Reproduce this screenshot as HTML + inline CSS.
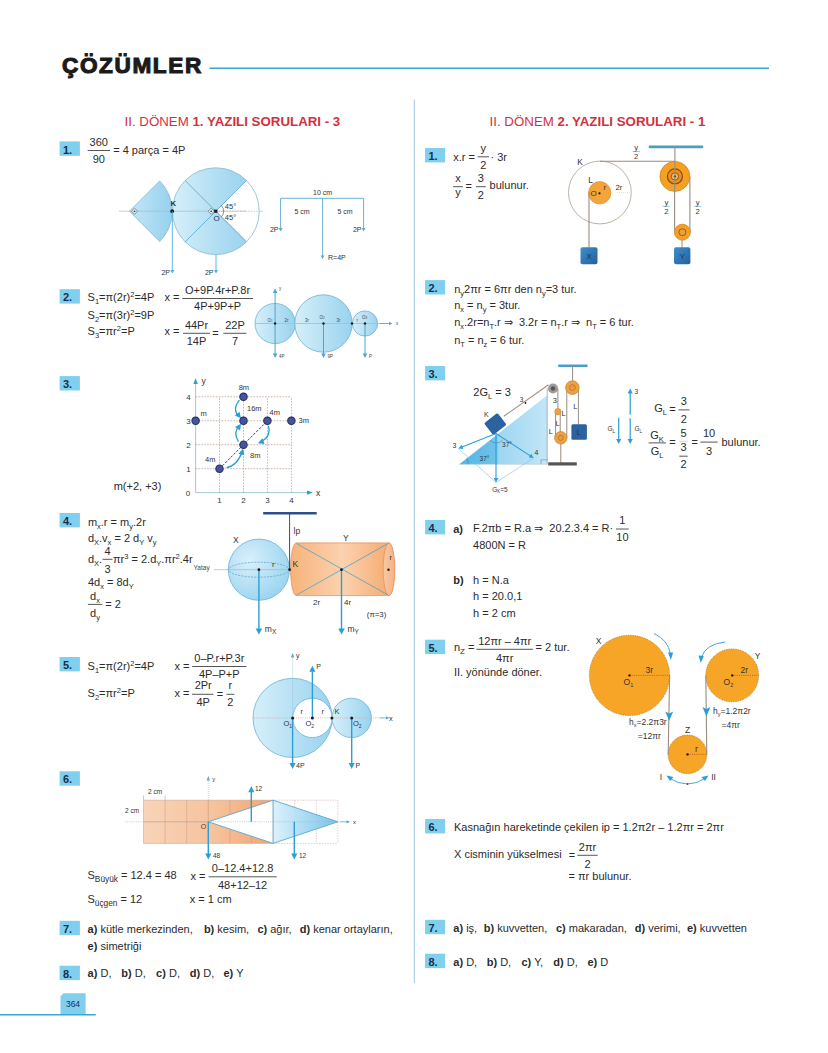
<!DOCTYPE html><html><head><meta charset="utf-8"><style>html,body{margin:0;padding:0;background:#fff;overflow:hidden;}svg{display:block;font-family:"Liberation Sans",sans-serif;}text{white-space:pre;}</style></head><body>
<svg width="828" height="1053" viewBox="0 0 828 1053">
<defs><linearGradient id="gb" x1="0" y1="0" x2="1" y2="0"><stop offset="0" stop-color="#d6eff9"/><stop offset="1" stop-color="#99d3ef"/></linearGradient><linearGradient id="gbr" x1="0" y1="0" x2="1" y2="0"><stop offset="0" stop-color="#c4e6f6"/><stop offset="1" stop-color="#95d1ee"/></linearGradient><radialGradient id="gs" cx="0.35" cy="0.35" r="0.75"><stop offset="0" stop-color="#d8f0fb"/><stop offset="1" stop-color="#98d2ef"/></radialGradient><linearGradient id="go" x1="0" y1="0" x2="1" y2="0"><stop offset="0" stop-color="#f7b27a"/><stop offset="0.5" stop-color="#fbd2b0"/><stop offset="1" stop-color="#f5a76a"/></linearGradient><linearGradient id="gor" x1="0" y1="0" x2="1" y2="0"><stop offset="0" stop-color="#f8c9a4"/><stop offset="1" stop-color="#f5b184"/></linearGradient><linearGradient id="ginc" x1="0" y1="0" x2="1" y2="0"><stop offset="0" stop-color="#4fb5e4"/><stop offset="0.42" stop-color="#6fc3ea"/><stop offset="0.45" stop-color="#9dd6f1"/><stop offset="1" stop-color="#c3e6f7"/></linearGradient></defs>
<text x="62.0" y="73.2" font-size="22.6" font-weight="bold" fill="#1b1b1b" letter-spacing="1.6" stroke="#1b1b1b" stroke-width="1.1">ÇÖZÜMLER</text>
<line x1="209.5" y1="68.2" x2="769.0" y2="68.2" stroke="#3ba6cf" stroke-width="1.6"/>
<line x1="414.3" y1="99.5" x2="414.3" y2="983.0" stroke="#9cc8dc" stroke-width="1"/>
<path d="M60.5,996.5 L63.5,993.3 L85.6,993.3 L85.6,1014.5 L60.5,1014.5 Z" fill="#80cfee"/>
<text x="73.0" y="1007.3" font-size="8.5" text-anchor="middle" fill="#14304a">364</text>
<line x1="0.0" y1="1014.8" x2="95.8" y2="1014.8" stroke="#3ba6cf" stroke-width="1.5"/>
<text x="124.5" y="126.2" font-size="13.3" fill="#d1323f">II. DÖNEM <tspan font-weight="bold">1. YAZILI SORULARI - 3</tspan></text>
<text x="489.6" y="126.1" font-size="13.3" fill="#d1323f">II. DÖNEM <tspan font-weight="bold">2. YAZILI SORULARI - 1</tspan></text>
<rect x="59.6" y="141.4" width="20.3" height="14.4" fill="#80cfee"/>
<text x="62.9" y="153.5" font-size="11" font-weight="bold" fill="#14304a">1.</text>
<line x1="87.7" y1="150.5" x2="110.0" y2="150.5" stroke="#2b2b2b" stroke-width="0.8"/>
<text x="98.8" y="146.1" font-size="11" text-anchor="middle" fill="#2b2b2b">360</text>
<text x="98.8" y="163.2" font-size="11" text-anchor="middle" fill="#2b2b2b">90</text>
<text x="113.2" y="153.9" font-size="11" fill="#2b2b2b">= 4 parça = 4P</text>
<line x1="119.0" y1="211.2" x2="263.0" y2="211.2" stroke="#b9b9b9" stroke-width="0.7"/>
<path d="M129.4,211.2 L159.7,180.9 A42.8,42.8 0 0 1 159.7,241.5 Z" fill="url(#gbr)" stroke="#86b9d2" stroke-width="0.8"/>
<path d="M215.8,211.2 L246.5,180.5 A43.4,43.4 0 1 0 246.5,241.9 Z" fill="url(#gb)" stroke="#86b9d2" stroke-width="0.8"/>
<path d="M246.5,180.5 A43.4,43.4 0 0 1 246.5,241.9" fill="#fff" stroke="#86b9d2" stroke-width="0.8"/>
<line x1="129.4" y1="211.2" x2="215.8" y2="211.2" stroke="#a9b9c2" stroke-width="0.7"/>
<line x1="215.8" y1="211.2" x2="259.0" y2="211.2" stroke="#e3a6a6" stroke-width="0.7" stroke-dasharray="1.5,1.2"/>
<line x1="215.8" y1="211.2" x2="185.1" y2="180.5" stroke="#5eb0d8" stroke-width="0.9"/>
<line x1="215.8" y1="211.2" x2="185.1" y2="241.9" stroke="#5eb0d8" stroke-width="0.9"/>
<line x1="215.8" y1="211.2" x2="246.5" y2="180.5" stroke="#6db1d6" stroke-width="0.9"/>
<line x1="215.8" y1="211.2" x2="246.5" y2="241.9" stroke="#6db1d6" stroke-width="0.9"/>
<path d="M131.4,211.2 l3.1,-3.1 l3.1,3.1 l-3.1,3.1 z" fill="#fff" fill-opacity="0.5" stroke="#555" stroke-width="0.6"/>
<circle cx="134.5" cy="211.2" r="0.8" fill="#223" stroke="none" stroke-width="1"/>
<path d="M214.3,211.2 l-3.1,-3.1 l-3.1,3.1 l3.1,3.1 z" fill="#fff" fill-opacity="0.5" stroke="#555" stroke-width="0.6"/>
<circle cx="211.2" cy="211.2" r="0.8" fill="#223" stroke="none" stroke-width="1"/>
<path d="M221.4,205.6 A8,8 0 0 1 221.4,216.8" fill="none" stroke="#444" stroke-width="0.6"/>
<rect x="214.2" y="209.6" width="3.2" height="3.2" fill="#1a1a2a"/>
<circle cx="172.2" cy="211.2" r="1.9" fill="#1a1a1a" stroke="none" stroke-width="1"/>
<text x="173.3" y="205.6" font-size="7.8" text-anchor="middle" fill="#1f3550" font-weight="bold">K</text>
<text x="216.6" y="220.6" font-size="8" text-anchor="middle" fill="#1f3550">O</text>
<text x="230.5" y="209.0" font-size="7.5" text-anchor="middle" fill="#333">45°</text>
<text x="230.5" y="220.2" font-size="7.5" text-anchor="middle" fill="#333">45°</text>
<line x1="172.3" y1="211.2" x2="172.3" y2="270.5" stroke="#4eb0dc" stroke-width="0.9"/>
<polygon points="172.3,273.5 170.3,270.0 174.3,270.0" fill="#4eb0dc"/>
<line x1="216.0" y1="254.6" x2="216.0" y2="270.5" stroke="#4eb0dc" stroke-width="0.9"/>
<polygon points="216.0,273.5 214.0,270.0 218.0,270.0" fill="#4eb0dc"/>
<text x="170.0" y="274.5" font-size="7" text-anchor="end" fill="#333">2P</text>
<text x="213.5" y="274.5" font-size="7" text-anchor="end" fill="#333">2P</text>
<line x1="280.6" y1="198.3" x2="363.6" y2="198.3" stroke="#58a9cf" stroke-width="0.9"/>
<line x1="280.6" y1="198.3" x2="280.6" y2="228.5" stroke="#58a9cf" stroke-width="0.9"/>
<polygon points="280.6,231.5 278.7,228.0 282.5,228.0" fill="#58a9cf"/>
<line x1="363.6" y1="198.3" x2="363.6" y2="228.5" stroke="#58a9cf" stroke-width="0.9"/>
<polygon points="363.6,231.5 361.7,228.0 365.5,228.0" fill="#58a9cf"/>
<line x1="322.6" y1="198.3" x2="322.6" y2="256.0" stroke="#58a9cf" stroke-width="0.9"/>
<polygon points="322.6,259.0 320.7,255.5 324.5,255.5" fill="#58a9cf"/>
<text x="322.6" y="195.0" font-size="7" text-anchor="middle" fill="#333">10 cm</text>
<text x="302.0" y="214.0" font-size="7" text-anchor="middle" fill="#333">5 cm</text>
<text x="345.0" y="214.0" font-size="7" text-anchor="middle" fill="#333">5 cm</text>
<text x="278.5" y="231.5" font-size="7" text-anchor="end" fill="#333">2P</text>
<text x="361.5" y="231.5" font-size="7" text-anchor="end" fill="#333">2P</text>
<text x="328.0" y="260.0" font-size="7" fill="#333">R=4P</text>
<rect x="59.6" y="289.2" width="20.3" height="14.4" fill="#80cfee"/>
<text x="62.9" y="301.3" font-size="11" font-weight="bold" fill="#14304a">2.</text>
<text x="87.6" y="301.4" font-size="11" fill="#2b2b2b">S<tspan font-size="7.5" baseline-shift="-2.5">1</tspan>=π(2r)<tspan font-size="7.5" baseline-shift="4">2</tspan>=4P</text>
<text x="87.6" y="318.8" font-size="11" fill="#2b2b2b">S<tspan font-size="7.5" baseline-shift="-2.5">2</tspan>=π(3r)<tspan font-size="7.5" baseline-shift="4">2</tspan>=9P</text>
<text x="87.6" y="335.3" font-size="11" fill="#2b2b2b">S<tspan font-size="7.5" baseline-shift="-2.5">3</tspan>=πr<tspan font-size="7.5" baseline-shift="4">2</tspan>=P</text>
<text x="164.5" y="301.3" font-size="11" fill="#2b2b2b">x =</text>
<line x1="182.3" y1="298.5" x2="253.0" y2="298.5" stroke="#2b2b2b" stroke-width="0.8"/>
<text x="217.6" y="294.1" font-size="11" text-anchor="middle" fill="#2b2b2b">O+9P.4r+P.8r</text>
<text x="217.6" y="310.4" font-size="11" text-anchor="middle" fill="#2b2b2b">4P+9P+P</text>
<text x="164.5" y="334.5" font-size="11" fill="#2b2b2b">x =</text>
<line x1="183.0" y1="333.3" x2="210.1" y2="333.3" stroke="#2b2b2b" stroke-width="0.8"/>
<text x="196.5" y="328.5" font-size="11" text-anchor="middle" fill="#2b2b2b">44Pr</text>
<text x="196.5" y="344.8" font-size="11" text-anchor="middle" fill="#2b2b2b">14P</text>
<text x="212.2" y="336.5" font-size="11" fill="#2b2b2b">=</text>
<line x1="223.4" y1="333.3" x2="246.4" y2="333.3" stroke="#2b2b2b" stroke-width="0.8"/>
<text x="235.0" y="328.5" font-size="11" text-anchor="middle" fill="#2b2b2b">22P</text>
<text x="235.0" y="344.8" font-size="11" text-anchor="middle" fill="#2b2b2b">7</text>
<circle cx="275.1" cy="323.5" r="20.1" fill="url(#gb)" stroke="#6db1d6" stroke-width="0.8"/>
<circle cx="323.5" cy="323.5" r="28.7" fill="url(#gb)" stroke="#6db1d6" stroke-width="0.8"/>
<circle cx="365.0" cy="323.5" r="12.6" fill="url(#gb)" stroke="#6db1d6" stroke-width="0.8"/>
<line x1="255.0" y1="323.5" x2="388.0" y2="323.5" stroke="#a9bfca" stroke-width="0.9"/>
<line x1="380.0" y1="323.5" x2="389.5" y2="323.5" stroke="#5aa9cf" stroke-width="0.8"/>
<polygon points="392.5,323.5 389.0,325.2 389.0,321.8" fill="#5aa9cf"/>
<line x1="275.1" y1="323.5" x2="275.1" y2="292.5" stroke="#4aa6d4" stroke-width="1.0"/>
<polygon points="275.1,288.5 277.4,293.0 272.8,293.0" fill="#4aa6d4"/>
<line x1="275.1" y1="323.5" x2="275.1" y2="354.0" stroke="#4aa6d4" stroke-width="1.0"/>
<polygon points="275.1,358.0 272.8,353.5 277.4,353.5" fill="#4aa6d4"/>
<line x1="323.5" y1="323.5" x2="323.5" y2="354.0" stroke="#4aa6d4" stroke-width="1.0"/>
<polygon points="323.5,358.0 321.2,353.5 325.8,353.5" fill="#4aa6d4"/>
<line x1="365.0" y1="323.5" x2="365.0" y2="354.0" stroke="#4aa6d4" stroke-width="1.0"/>
<polygon points="365.0,358.0 362.7,353.5 367.3,353.5" fill="#4aa6d4"/>
<circle cx="275.1" cy="323.5" r="1.2" fill="#1a1a1a" stroke="none" stroke-width="1"/>
<circle cx="323.5" cy="323.5" r="1.2" fill="#1a1a1a" stroke="none" stroke-width="1"/>
<circle cx="352.0" cy="323.5" r="1.2" fill="#1a1a1a" stroke="none" stroke-width="1"/>
<circle cx="365.0" cy="323.5" r="1.2" fill="#1a1a1a" stroke="none" stroke-width="1"/>
<text x="279.0" y="289.5" font-size="4.5" fill="#444">y</text>
<text x="396.0" y="325.0" font-size="4.5" fill="#444">x</text>
<text x="279.0" y="358.0" font-size="4.5" fill="#444">4P</text>
<text x="327.5" y="358.0" font-size="4.5" fill="#444">9P</text>
<text x="369.0" y="358.0" font-size="4.5" fill="#444">P</text>
<text x="267.5" y="322.0" font-size="4.5" fill="#444">O<tspan font-size="3">1</tspan></text>
<text x="284.5" y="322.0" font-size="4.5" fill="#444">2r</text>
<text x="305.0" y="322.0" font-size="4.5" fill="#444">3r</text>
<text x="319.5" y="319.0" font-size="4.5" fill="#444">O<tspan font-size="3">2</tspan></text>
<text x="336.5" y="322.0" font-size="4.5" fill="#444">3r</text>
<text x="356.5" y="322.0" font-size="4.5" fill="#444">r</text>
<text x="362.0" y="319.0" font-size="4.5" fill="#444">O<tspan font-size="3">3</tspan></text>
<rect x="59.6" y="376.1" width="20.3" height="14.4" fill="#80cfee"/>
<text x="62.9" y="388.2" font-size="11" font-weight="bold" fill="#14304a">3.</text>
<text x="113.7" y="490.3" font-size="11" fill="#2b2b2b">m(+2, +3)</text>
<line x1="219.5" y1="492.6" x2="219.5" y2="396.8" stroke="#b39488" stroke-width="0.7" stroke-dasharray="1.6,1.3"/>
<line x1="195.6" y1="468.7" x2="291.4" y2="468.7" stroke="#b39488" stroke-width="0.7" stroke-dasharray="1.6,1.3"/>
<line x1="243.5" y1="492.6" x2="243.5" y2="396.8" stroke="#b39488" stroke-width="0.7" stroke-dasharray="1.6,1.3"/>
<line x1="195.6" y1="444.7" x2="291.4" y2="444.7" stroke="#b39488" stroke-width="0.7" stroke-dasharray="1.6,1.3"/>
<line x1="267.4" y1="492.6" x2="267.4" y2="396.8" stroke="#b39488" stroke-width="0.7" stroke-dasharray="1.6,1.3"/>
<line x1="195.6" y1="420.8" x2="291.4" y2="420.8" stroke="#b39488" stroke-width="0.7" stroke-dasharray="1.6,1.3"/>
<line x1="291.4" y1="492.6" x2="291.4" y2="396.8" stroke="#b39488" stroke-width="0.7" stroke-dasharray="1.6,1.3"/>
<line x1="195.6" y1="396.8" x2="291.4" y2="396.8" stroke="#b39488" stroke-width="0.7" stroke-dasharray="1.6,1.3"/>
<line x1="195.6" y1="492.6" x2="195.6" y2="383.0" stroke="#9cc3d6" stroke-width="0.9"/>
<line x1="195.6" y1="492.6" x2="307.0" y2="492.6" stroke="#9cc3d6" stroke-width="0.9"/>
<polygon points="195.6,378 193.4,384 197.8,384" fill="#2b9fd5"/>
<polygon points="313,492.6 307,490.4 307,494.8" fill="#2b9fd5"/>
<text x="201.6" y="384.0" font-size="8.5" fill="#333">y</text>
<text x="316.0" y="495.5" font-size="8.5" fill="#333">x</text>
<text x="188.0" y="496.0" font-size="8" text-anchor="middle" fill="#333">0</text>
<text x="219.5" y="503.0" font-size="8" text-anchor="middle" fill="#333">1</text>
<text x="188.5" y="471.7" font-size="8" text-anchor="middle" fill="#333">1</text>
<text x="243.5" y="503.0" font-size="8" text-anchor="middle" fill="#333">2</text>
<text x="188.5" y="447.7" font-size="8" text-anchor="middle" fill="#333">2</text>
<text x="267.4" y="503.0" font-size="8" text-anchor="middle" fill="#333">3</text>
<text x="188.5" y="423.8" font-size="8" text-anchor="middle" fill="#333">3</text>
<text x="291.4" y="503.0" font-size="8" text-anchor="middle" fill="#333">4</text>
<text x="188.5" y="399.8" font-size="8" text-anchor="middle" fill="#333">4</text>
<line x1="219.5" y1="468.7" x2="267.4" y2="420.8" stroke="#2a4a66" stroke-width="1.0" stroke-dasharray="2.5,1.5"/>
<path d="M239.5,399.8 Q231.5,409.8 239.5,416.8" fill="none" stroke="#2b9fd5" stroke-width="1.3"/>
<polygon points="241.0,418.2 234.8,415.6 239.5,411.7" fill="#2b9fd5"/>
<path d="M238.5,441.7 Q232.5,432.7 239.5,425.8" fill="none" stroke="#2b9fd5" stroke-width="1.3"/>
<polygon points="241.0,423.8 240.1,430.4 235.0,426.9" fill="#2b9fd5"/>
<path d="M268.4,425.8 Q271.4,436.8 260.4,441.7" fill="none" stroke="#2b9fd5" stroke-width="1.3"/>
<polygon points="257.9,443.2 262.5,438.2 264.6,444.1" fill="#2b9fd5"/>
<path d="M226.5,467.7 Q237.5,465.7 242.5,450.7" fill="none" stroke="#2b9fd5" stroke-width="1.3"/>
<polygon points="243.0,448.7 244.4,455.3 238.5,453.7" fill="#2b9fd5"/>
<circle cx="243.5" cy="396.8" r="3.7" fill="#46549a" stroke="#27306a" stroke-width="1.1"/>
<circle cx="195.6" cy="420.8" r="3.7" fill="#46549a" stroke="#27306a" stroke-width="1.1"/>
<circle cx="243.5" cy="420.8" r="3.7" fill="#46549a" stroke="#27306a" stroke-width="1.1"/>
<circle cx="267.4" cy="420.8" r="3.7" fill="#46549a" stroke="#27306a" stroke-width="1.1"/>
<circle cx="291.4" cy="420.8" r="3.7" fill="#46549a" stroke="#27306a" stroke-width="1.1"/>
<circle cx="243.5" cy="444.7" r="3.7" fill="#46549a" stroke="#27306a" stroke-width="1.1"/>
<circle cx="219.5" cy="468.7" r="3.7" fill="#46549a" stroke="#27306a" stroke-width="1.1"/>
<text x="243.9" y="390.0" font-size="7.5" text-anchor="middle" fill="#333">8m</text>
<text x="247.0" y="410.5" font-size="7.5" fill="#333">16m</text>
<text x="269.5" y="415.0" font-size="7.5" fill="#333">4m</text>
<text x="298.5" y="423.4" font-size="7.5" fill="#333">3m</text>
<text x="200.5" y="415.5" font-size="7.5" fill="#333">m</text>
<text x="250.0" y="458.0" font-size="7.5" fill="#333">8m</text>
<text x="205.0" y="461.7" font-size="7.5" fill="#333">4m</text>
<rect x="59.6" y="513.0" width="20.3" height="14.4" fill="#80cfee"/>
<text x="62.9" y="525.1" font-size="11" font-weight="bold" fill="#14304a">4.</text>
<text x="87.9" y="525.8" font-size="11" fill="#2b2b2b">m<tspan font-size="7.5" baseline-shift="-2.5">x</tspan>.r = m<tspan font-size="7.5" baseline-shift="-2.5">y</tspan>.2r</text>
<text x="87.9" y="541.9" font-size="11" fill="#2b2b2b">d<tspan font-size="7.5" baseline-shift="-2.5">X</tspan>.v<tspan font-size="7.5" baseline-shift="-2.5">x</tspan> = 2 d<tspan font-size="7.5" baseline-shift="-2.5">Y</tspan> v<tspan font-size="7.5" baseline-shift="-2.5">y</tspan></text>
<text x="87.9" y="563.1" font-size="11" fill="#2b2b2b">d<tspan font-size="7.5" baseline-shift="-2.5">X</tspan>.</text>
<line x1="102.5" y1="559.3" x2="112.5" y2="559.3" stroke="#2b2b2b" stroke-width="0.8"/>
<text x="107.5" y="555.4" font-size="11" text-anchor="middle" fill="#2b2b2b">4</text>
<text x="107.5" y="572.8" font-size="11" text-anchor="middle" fill="#2b2b2b">3</text>
<text x="113.0" y="563.1" font-size="11" fill="#2b2b2b">πr<tspan font-size="7.5" baseline-shift="4">3</tspan> = 2.d<tspan font-size="7.5" baseline-shift="-2.5">Y</tspan>.πr<tspan font-size="7.5" baseline-shift="4">2</tspan>.4r</text>
<text x="193.5" y="570.3" font-size="6.5" fill="#444">Yatay</text>
<text x="87.9" y="586.4" font-size="11" fill="#2b2b2b">4d<tspan font-size="7.5" baseline-shift="-2.5">x</tspan> = 8d<tspan font-size="7.5" baseline-shift="-2.5">Y</tspan></text>
<line x1="87.9" y1="604.4" x2="102.3" y2="604.4" stroke="#2b2b2b" stroke-width="0.8"/>
<text x="95.0" y="600.4" font-size="11" text-anchor="middle" fill="#2b2b2b">d<tspan font-size="7.5" baseline-shift="-2.5">x</tspan></text>
<text x="95.0" y="617.3" font-size="11" text-anchor="middle" fill="#2b2b2b">d<tspan font-size="7.5" baseline-shift="-2.5">y</tspan></text>
<text x="105.2" y="607.7" font-size="11" fill="#2b2b2b">= 2</text>
<line x1="214.0" y1="569.7" x2="296.0" y2="569.7" stroke="#999" stroke-width="0.5"/>
<circle cx="258.9" cy="569.7" r="30.6" fill="url(#gs)" stroke="#6ab0d5" stroke-width="0.8"/>
<ellipse cx="258.9" cy="569.7" rx="30.3" ry="7.5" fill="none" stroke="#5ea7cf" stroke-width="0.8" stroke-dasharray="2,1.2"/>
<line x1="229.0" y1="569.7" x2="289.5" y2="569.7" stroke="#a9b9c2" stroke-width="0.8"/>
<path d="M296,542.9 L389,542.9 A5.8,26.4 0 0 1 389,595.6 L296,595.6 A5.8,26.4 0 0 1 296,542.9 Z" fill="url(#go)" stroke="#e8925a" stroke-width="0.8"/>
<ellipse cx="389" cy="569.3" rx="5.8" ry="26.4" fill="url(#gor)" stroke="#e8925a" stroke-width="0.8"/>
<line x1="296.5" y1="543.5" x2="388.0" y2="595.0" stroke="#4aa3c8" stroke-width="0.8"/>
<line x1="296.5" y1="595.0" x2="388.0" y2="543.5" stroke="#4aa3c8" stroke-width="0.8"/>
<line x1="263.2" y1="513.3" x2="316.7" y2="513.3" stroke="#2e4f8a" stroke-width="2.6"/>
<line x1="289.6" y1="513.3" x2="289.6" y2="569.7" stroke="#2e4f8a" stroke-width="1"/>
<line x1="258.9" y1="569.7" x2="258.9" y2="629.0" stroke="#2b9fd5" stroke-width="1.4"/>
<polygon points="258.9,634.5 255.6,628.5 262.2,628.5" fill="#2b9fd5"/>
<line x1="341.5" y1="569.7" x2="341.5" y2="629.0" stroke="#2b9fd5" stroke-width="1.4"/>
<polygon points="341.5,634.5 338.2,628.5 344.8,628.5" fill="#2b9fd5"/>
<circle cx="258.9" cy="569.7" r="1.4" fill="#1a1a1a" stroke="none" stroke-width="1"/>
<circle cx="289.6" cy="569.7" r="1.4" fill="#1a1a1a" stroke="none" stroke-width="1"/>
<circle cx="341.5" cy="569.7" r="1.4" fill="#1a1a1a" stroke="none" stroke-width="1"/>
<circle cx="388.5" cy="569.7" r="1.2" fill="#1a1a1a" stroke="none" stroke-width="1"/>
<text x="233.0" y="542.9" font-size="8.5" fill="#333">X</text>
<text x="343.0" y="540.6" font-size="8.5" fill="#333">Y</text>
<text x="293.5" y="534.4" font-size="8.5" fill="#333">lp</text>
<text x="292.4" y="567.4" font-size="8.5" fill="#333">K</text>
<text x="272.0" y="567.4" font-size="8" fill="#333">r</text>
<text x="389.5" y="560.0" font-size="7.5" fill="#333">r</text>
<text x="313.0" y="604.8" font-size="8" fill="#333">2r</text>
<text x="344.0" y="604.8" font-size="8" fill="#333">4r</text>
<text x="366.8" y="617.4" font-size="7.8" fill="#333">(π=3)</text>
<text x="264.8" y="632.4" font-size="8.5" fill="#333">m<tspan font-size="6.5" baseline-shift="-2.2">X</tspan></text>
<text x="347.5" y="632.4" font-size="8.5" fill="#333">m<tspan font-size="6.5" baseline-shift="-2.2">Y</tspan></text>
<rect x="59.6" y="657.0" width="20.3" height="14.4" fill="#80cfee"/>
<text x="62.9" y="669.1" font-size="11" font-weight="bold" fill="#14304a">5.</text>
<text x="87.6" y="669.8" font-size="11" fill="#2b2b2b">S<tspan font-size="7.5" baseline-shift="-2.5">1</tspan>=π(2r)<tspan font-size="7.5" baseline-shift="4">2</tspan>=4P</text>
<text x="87.6" y="697.0" font-size="11" fill="#2b2b2b">S<tspan font-size="7.5" baseline-shift="-2.5">2</tspan>=πr<tspan font-size="7.5" baseline-shift="4">2</tspan>=P</text>
<text x="174.5" y="669.9" font-size="11" fill="#2b2b2b">x =</text>
<line x1="192.2" y1="666.5" x2="246.5" y2="666.5" stroke="#2b2b2b" stroke-width="0.8"/>
<text x="219.3" y="661.7" font-size="11" text-anchor="middle" fill="#2b2b2b">0–P.r+P.3r</text>
<text x="219.3" y="678.1" font-size="11" text-anchor="middle" fill="#2b2b2b">4P–P+P</text>
<text x="174.5" y="696.9" font-size="11" fill="#2b2b2b">x =</text>
<line x1="192.0" y1="694.3" x2="213.5" y2="694.3" stroke="#2b2b2b" stroke-width="0.8"/>
<text x="203.2" y="689.2" font-size="11" text-anchor="middle" fill="#2b2b2b">2Pr</text>
<text x="203.2" y="706.1" font-size="11" text-anchor="middle" fill="#2b2b2b">4P</text>
<text x="216.8" y="697.5" font-size="11" fill="#2b2b2b">=</text>
<line x1="226.5" y1="694.3" x2="234.3" y2="694.3" stroke="#2b2b2b" stroke-width="0.8"/>
<text x="230.4" y="689.2" font-size="11" text-anchor="middle" fill="#2b2b2b">r</text>
<text x="230.4" y="706.1" font-size="11" text-anchor="middle" fill="#2b2b2b">2</text>
<circle cx="292.6" cy="717.9" r="39.6" fill="url(#gb)" stroke="#6db1d6" stroke-width="0.8"/>
<circle cx="312.4" cy="717.9" r="19.7" fill="#ffffff" stroke="#6db1d6" stroke-width="0.8"/>
<circle cx="351.7" cy="717.9" r="19.7" fill="url(#gb)" stroke="#6db1d6" stroke-width="0.8"/>
<line x1="254.0" y1="717.9" x2="383.0" y2="717.9" stroke="#e2a3a3" stroke-width="0.7" stroke-dasharray="1.2,1"/>
<line x1="380.0" y1="717.9" x2="386.5" y2="717.9" stroke="#5aa9cf" stroke-width="0.8"/>
<polygon points="389.5,717.9 386.0,719.5 386.0,716.3" fill="#5aa9cf"/>
<line x1="292.6" y1="653.5" x2="292.6" y2="717.9" stroke="#8fb8cc" stroke-width="0.7" stroke-dasharray="1,1"/>
<polygon points="292.6,653 290.9,657.5 294.3,657.5" fill="#5aa9cf"/>
<line x1="292.6" y1="717.9" x2="292.6" y2="763.5" stroke="#2b9fd5" stroke-width="1.4"/>
<polygon points="292.6,769.0 289.5,763.0 295.7,763.0" fill="#2b9fd5"/>
<line x1="312.4" y1="717.9" x2="312.4" y2="671.3" stroke="#2b9fd5" stroke-width="1.4"/>
<polygon points="312.4,665.8 315.5,671.8 309.3,671.8" fill="#2b9fd5"/>
<line x1="351.7" y1="717.9" x2="351.7" y2="763.5" stroke="#2b9fd5" stroke-width="1.4"/>
<polygon points="351.7,769.0 348.6,763.0 354.8,763.0" fill="#2b9fd5"/>
<circle cx="292.6" cy="717.9" r="1.5" fill="#1a1a1a" stroke="none" stroke-width="1"/>
<circle cx="312.4" cy="717.9" r="1.5" fill="#1a1a1a" stroke="none" stroke-width="1"/>
<circle cx="331.9" cy="717.9" r="1.5" fill="#1a1a1a" stroke="none" stroke-width="1"/>
<circle cx="351.7" cy="717.9" r="1.5" fill="#1a1a1a" stroke="none" stroke-width="1"/>
<text x="296.0" y="657.8" font-size="7" fill="#333">y</text>
<text x="389.0" y="720.5" font-size="7.5" fill="#333">x</text>
<text x="296.0" y="767.8" font-size="7" fill="#333">4P</text>
<text x="355.5" y="767.8" font-size="7" fill="#333">P</text>
<text x="316.3" y="668.5" font-size="7" fill="#333">P</text>
<text x="300.5" y="713.8" font-size="7.5" fill="#333">r</text>
<text x="321.5" y="713.8" font-size="7.5" fill="#333">r</text>
<text x="334.5" y="713.8" font-size="7.5" fill="#333">K</text>
<text x="283.5" y="726.2" font-size="7.5" fill="#333">O<tspan font-size="5" baseline-shift="-1.8">1</tspan></text>
<text x="305.5" y="726.2" font-size="7.5" fill="#333">O<tspan font-size="5" baseline-shift="-1.8">2</tspan></text>
<text x="353.0" y="726.2" font-size="7.5" fill="#333">O<tspan font-size="5" baseline-shift="-1.8">2</tspan></text>
<rect x="59.6" y="771.3" width="20.3" height="14.4" fill="#80cfee"/>
<text x="62.9" y="783.4" font-size="11" font-weight="bold" fill="#14304a">6.</text>
<defs><linearGradient id="gor2" x1="0" y1="0" x2="1" y2="0"><stop offset="0" stop-color="#f9d4b8"/><stop offset="0.55" stop-color="#f6c29c"/><stop offset="1" stop-color="#f3a46f"/></linearGradient><linearGradient id="gbl2" x1="0" y1="0" x2="1" y2="0"><stop offset="0" stop-color="#d8f0fb"/><stop offset="1" stop-color="#6cbde6"/></linearGradient></defs>
<rect x="143.5" y="800.2" width="129.6" height="43.2" fill="url(#gor2)"/>
<line x1="143.5" y1="800.2" x2="143.5" y2="843.4" stroke="#c39b88" stroke-width="0.5"/>
<line x1="165.1" y1="800.2" x2="165.1" y2="843.4" stroke="#c39b88" stroke-width="0.5"/>
<line x1="186.7" y1="800.2" x2="186.7" y2="843.4" stroke="#c39b88" stroke-width="0.5"/>
<line x1="208.3" y1="800.2" x2="208.3" y2="843.4" stroke="#c39b88" stroke-width="0.5"/>
<line x1="229.9" y1="800.2" x2="229.9" y2="843.4" stroke="#c39b88" stroke-width="0.5"/>
<line x1="251.5" y1="800.2" x2="251.5" y2="843.4" stroke="#c39b88" stroke-width="0.5"/>
<line x1="273.1" y1="800.2" x2="273.1" y2="843.4" stroke="#c39b88" stroke-width="0.5"/>
<line x1="143.5" y1="800.2" x2="273.1" y2="800.2" stroke="#c39b88" stroke-width="0.5"/>
<line x1="143.5" y1="821.8" x2="273.1" y2="821.8" stroke="#c39b88" stroke-width="0.5"/>
<line x1="143.5" y1="843.4" x2="273.1" y2="843.4" stroke="#c39b88" stroke-width="0.5"/>
<polygon points="208.3,821.8 273.1,800.2 273.1,843.4" fill="#fff"/>
<line x1="273.1" y1="800.2" x2="273.1" y2="843.4" stroke="#d6a9a4" stroke-width="0.6" stroke-dasharray="1.5,1.2"/>
<line x1="294.7" y1="800.2" x2="294.7" y2="843.4" stroke="#d6a9a4" stroke-width="0.6" stroke-dasharray="1.5,1.2"/>
<line x1="316.3" y1="800.2" x2="316.3" y2="843.4" stroke="#d6a9a4" stroke-width="0.6" stroke-dasharray="1.5,1.2"/>
<line x1="337.9" y1="800.2" x2="337.9" y2="843.4" stroke="#d6a9a4" stroke-width="0.6" stroke-dasharray="1.5,1.2"/>
<line x1="273.1" y1="800.2" x2="337.9" y2="800.2" stroke="#d6a9a4" stroke-width="0.6" stroke-dasharray="1.5,1.2"/>
<line x1="273.1" y1="843.4" x2="337.9" y2="843.4" stroke="#d6a9a4" stroke-width="0.6" stroke-dasharray="1.5,1.2"/>
<polygon points="273.1,800.2 273.1,843.4 337.9,821.8" fill="url(#gbl2)" fill-opacity="0.9"/>
<polygon points="208.3,821.8 273.1,800.2 337.9,821.8 273.1,843.4" fill="none" stroke="#58a9cf" stroke-width="0.9"/>
<line x1="273.1" y1="800.2" x2="273.1" y2="843.4" stroke="#58a9cf" stroke-width="0.9"/>
<line x1="125.0" y1="821.8" x2="340.0" y2="821.8" stroke="#8fb8cc" stroke-width="0.6" stroke-dasharray="1.2,1"/>
<line x1="340.0" y1="821.8" x2="347.0" y2="821.8" stroke="#5aa9cf" stroke-width="0.8"/>
<polygon points="350.0,821.8 346.5,823.4 346.5,820.2" fill="#5aa9cf"/>
<line x1="208.3" y1="777.0" x2="208.3" y2="821.8" stroke="#8fb8cc" stroke-width="0.6" stroke-dasharray="1,1"/>
<polygon points="208.3,776 206.6,780.5 210.0,780.5" fill="#5aa9cf"/>
<line x1="251.3" y1="821.8" x2="251.3" y2="791.8" stroke="#2b9fd5" stroke-width="1.4"/>
<polygon points="251.3,786.3 254.4,792.3 248.2,792.3" fill="#2b9fd5"/>
<line x1="208.3" y1="821.8" x2="208.3" y2="854.0" stroke="#2b9fd5" stroke-width="1.4"/>
<polygon points="208.3,859.5 205.2,853.5 211.4,853.5" fill="#2b9fd5"/>
<line x1="294.3" y1="821.8" x2="294.3" y2="854.0" stroke="#2b9fd5" stroke-width="1.4"/>
<polygon points="294.3,859.5 291.2,853.5 297.4,853.5" fill="#2b9fd5"/>
<line x1="143.5" y1="795.5" x2="143.5" y2="800.0" stroke="#999" stroke-width="0.5"/>
<line x1="165.1" y1="795.5" x2="165.1" y2="800.0" stroke="#999" stroke-width="0.5"/>
<text x="148.0" y="793.8" font-size="6.5" fill="#333">2 cm</text>
<text x="125.0" y="813.0" font-size="6.5" fill="#333">2 cm</text>
<text x="200.8" y="829.3" font-size="7" fill="#5a3a2a">O</text>
<text x="212.3" y="781.0" font-size="6" fill="#333">y</text>
<text x="353.0" y="823.5" font-size="6" fill="#333">x</text>
<text x="255.0" y="791.0" font-size="6.5" fill="#333">12</text>
<text x="213.0" y="858.0" font-size="6.5" fill="#333">48</text>
<text x="299.0" y="858.0" font-size="6.5" fill="#333">12</text>
<text x="87.5" y="878.8" font-size="11" fill="#2b2b2b">S<tspan font-size="8.3" baseline-shift="-3.3">Büyük</tspan> = 12.4 = 48</text>
<text x="87.5" y="902.9" font-size="11" fill="#2b2b2b">S<tspan font-size="8.3" baseline-shift="-3.3">üçgen</tspan> = 12</text>
<text x="190.5" y="879.5" font-size="11" fill="#2b2b2b">x =</text>
<line x1="208.6" y1="876.8" x2="276.7" y2="876.8" stroke="#2b2b2b" stroke-width="0.8"/>
<text x="242.6" y="872.3" font-size="11" text-anchor="middle" fill="#2b2b2b">0–12.4+12.8</text>
<text x="242.6" y="888.8" font-size="11" text-anchor="middle" fill="#2b2b2b">48+12–12</text>
<text x="189.8" y="902.9" font-size="11" fill="#2b2b2b">x = 1 cm</text>
<rect x="59.6" y="920.8" width="20.3" height="14.4" fill="#80cfee"/>
<text x="62.9" y="932.9" font-size="11" font-weight="bold" fill="#14304a">7.</text>
<text y="933.2" font-size="11" fill="#2b2b2b"><tspan x="87.6" font-weight="bold">a)</tspan><tspan> kütle merkezinden,</tspan><tspan x="203.9" font-weight="bold">b)</tspan><tspan> kesim,</tspan><tspan x="257.4" font-weight="bold">c)</tspan><tspan> ağır,</tspan><tspan x="299.8" font-weight="bold">d)</tspan><tspan> kenar ortayların,</tspan></text>
<text y="950.2" font-size="11" fill="#2b2b2b"><tspan x="87.6" font-weight="bold">e)</tspan><tspan> simetriği</tspan></text>
<rect x="59.6" y="965.7" width="20.3" height="14.4" fill="#80cfee"/>
<text x="62.9" y="977.8" font-size="11" font-weight="bold" fill="#14304a">8.</text>
<text y="976.8" font-size="11" fill="#2b2b2b"><tspan x="87.6" font-weight="bold">a)</tspan><tspan> D,</tspan><tspan x="121.3" font-weight="bold">b)</tspan><tspan> D,</tspan><tspan x="156.1" font-weight="bold">c)</tspan><tspan> D,</tspan><tspan x="189.8" font-weight="bold">d)</tspan><tspan> D,</tspan><tspan x="223.5" font-weight="bold">e)</tspan><tspan> Y</tspan></text>
<rect x="425.1" y="148.0" width="20" height="14.4" fill="#80cfee"/>
<text x="428.4" y="160.1" font-size="11" font-weight="bold" fill="#14304a">1.</text>
<text x="453.3" y="160.7" font-size="11" fill="#2b2b2b">x.r =</text>
<line x1="477.6" y1="156.8" x2="489.0" y2="156.8" stroke="#2b2b2b" stroke-width="0.8"/>
<text x="483.3" y="151.8" font-size="11" text-anchor="middle" fill="#2b2b2b">y</text>
<text x="483.3" y="169.3" font-size="11" text-anchor="middle" fill="#2b2b2b">2</text>
<text x="490.5" y="160.7" font-size="11" fill="#2b2b2b">· 3r</text>
<line x1="453.2" y1="186.7" x2="462.9" y2="186.7" stroke="#2b2b2b" stroke-width="0.8"/>
<text x="458.0" y="181.8" font-size="11" text-anchor="middle" fill="#2b2b2b">x</text>
<text x="458.0" y="196.0" font-size="11" text-anchor="middle" fill="#2b2b2b">y</text>
<text x="465.5" y="190.3" font-size="11" fill="#2b2b2b">=</text>
<line x1="476.0" y1="186.7" x2="485.8" y2="186.7" stroke="#2b2b2b" stroke-width="0.8"/>
<text x="480.9" y="181.8" font-size="11" text-anchor="middle" fill="#2b2b2b">3</text>
<text x="480.9" y="198.7" font-size="11" text-anchor="middle" fill="#2b2b2b">2</text>
<text x="489.6" y="188.9" font-size="11" fill="#2b2b2b">bulunur.</text>
<circle cx="599.9" cy="192.5" r="31.4" fill="none" stroke="#b9a89a" stroke-width="0.9"/>
<circle cx="599.7" cy="192.8" r="11.2" fill="#f4a43a" stroke="#e08a25" stroke-width="0.6"/>
<line x1="617.0" y1="192.5" x2="633.0" y2="192.5" stroke="#f0c9a0" stroke-width="0.6" stroke-dasharray="1,1"/>
<line x1="599.9" y1="161.3" x2="674.9" y2="161.3" stroke="#9a8c7e" stroke-width="1.1"/>
<line x1="589.0" y1="192.5" x2="589.0" y2="247.5" stroke="#9a8c7e" stroke-width="1.1"/>
<line x1="650.0" y1="146.8" x2="702.0" y2="146.8" stroke="#4aa0b8" stroke-width="2.8" stroke-linecap="round"/>
<circle cx="674.9" cy="176.4" r="15.0" fill="#f5a020" stroke="#c98a2a" stroke-width="0.8"/>
<circle cx="674.9" cy="176.4" r="7.5" fill="#e8901f" stroke="#8b4a1a" stroke-width="1.2"/>
<circle cx="674.9" cy="176.4" r="3.6" fill="#f7c060" stroke="#7a3a10" stroke-width="0.8"/>
<circle cx="674.9" cy="176.4" r="1.2" fill="#3a2a1a" stroke="none" stroke-width="1"/>
<line x1="674.9" y1="146.4" x2="674.9" y2="176.4" stroke="#9a8c7e" stroke-width="1.1"/>
<line x1="674.6" y1="176.4" x2="674.6" y2="231.0" stroke="#9a8c7e" stroke-width="1.1"/>
<line x1="689.9" y1="176.4" x2="689.9" y2="232.2" stroke="#9a8c7e" stroke-width="1.1"/>
<circle cx="682.4" cy="232.2" r="8.0" fill="#f5a020" stroke="#c98a2a" stroke-width="0.8"/>
<circle cx="682.4" cy="232.2" r="3.5" fill="#e8a040" stroke="#8b4a1a" stroke-width="0.8"/>
<line x1="682.0" y1="240.0" x2="682.0" y2="247.5" stroke="#9a8c7e" stroke-width="1"/>
<defs><linearGradient id="gblk" x1="0" y1="0" x2="1" y2="1"><stop offset="0" stop-color="#3f8fcf"/><stop offset="1" stop-color="#235f9c"/></linearGradient></defs>
<rect x="580.5" y="247.3" width="17" height="17" rx="2" fill="url(#gblk)"/>
<rect x="674" y="247.3" width="16.4" height="17" rx="2" fill="url(#gblk)"/>
<text x="589.0" y="259.0" font-size="7.5" text-anchor="middle" fill="#1c3550">X</text>
<text x="682.2" y="259.0" font-size="7.5" text-anchor="middle" fill="#1c3550">Y</text>
<line x1="632.5" y1="151.5" x2="640.0" y2="151.5" stroke="#7fc2e0" stroke-width="0.8"/>
<text x="636.2" y="149.7" font-size="7.7" text-anchor="middle" fill="#3b3b3b">y</text>
<text x="636.2" y="158.8" font-size="7.7" text-anchor="middle" fill="#3b3b3b">2</text>
<line x1="662.5" y1="206.3" x2="670.0" y2="206.3" stroke="#7fc2e0" stroke-width="0.8"/>
<text x="666.3" y="204.5" font-size="7.7" text-anchor="middle" fill="#3b3b3b">y</text>
<text x="666.3" y="213.6" font-size="7.7" text-anchor="middle" fill="#3b3b3b">2</text>
<line x1="694.0" y1="206.3" x2="701.5" y2="206.3" stroke="#7fc2e0" stroke-width="0.8"/>
<text x="697.7" y="204.5" font-size="7.7" text-anchor="middle" fill="#3b3b3b">y</text>
<text x="697.7" y="213.6" font-size="7.7" text-anchor="middle" fill="#3b3b3b">2</text>
<text x="580.0" y="164.6" font-size="8.4" text-anchor="middle" fill="#333">K</text>
<text x="590.5" y="182.5" font-size="8.4" text-anchor="middle" fill="#333">L</text>
<text x="593.5" y="196.0" font-size="8" text-anchor="middle" fill="#333">O</text>
<circle cx="599.5" cy="193.3" r="1.1" fill="#1a1a1a" stroke="none" stroke-width="1"/>
<text x="603.5" y="190.2" font-size="7.5" fill="#333">r</text>
<text x="615.4" y="189.8" font-size="7.9" fill="#333">2r</text>
<rect x="425.1" y="280.1" width="20" height="14.4" fill="#80cfee"/>
<text x="428.4" y="292.2" font-size="11" font-weight="bold" fill="#14304a">2.</text>
<text x="454.2" y="293.1" font-size="11" fill="#2b2b2b">n<tspan font-size="7.5" baseline-shift="-2.5">y</tspan>2πr = 6πr den n<tspan font-size="7.5" baseline-shift="-2.5">y</tspan>=3 tur.</text>
<text x="454.2" y="309.3" font-size="11" fill="#2b2b2b">n<tspan font-size="7.5" baseline-shift="-2.5">x</tspan> = n<tspan font-size="7.5" baseline-shift="-2.5">y</tspan> = 3tur.</text>
<text x="454.2" y="326.3" font-size="11" fill="#2b2b2b">n<tspan font-size="7.5" baseline-shift="-2.5">x</tspan>.2r=n<tspan font-size="7.5" baseline-shift="-2.5">T</tspan>.r ⇒  3.2r = n<tspan font-size="7.5" baseline-shift="-2.5">T</tspan>.r ⇒  n<tspan font-size="7.5" baseline-shift="-2.5">T</tspan> = 6 tur.</text>
<text x="454.2" y="343.5" font-size="11" fill="#2b2b2b">n<tspan font-size="7.5" baseline-shift="-2.5">T</tspan> = n<tspan font-size="7.5" baseline-shift="-2.5">z</tspan> = 6 tur.</text>
<rect x="425.1" y="366.0" width="20" height="14.4" fill="#80cfee"/>
<text x="428.4" y="378.1" font-size="11" font-weight="bold" fill="#14304a">3.</text>
<text x="473.3" y="395.8" font-size="11" fill="#2b2b2b">2G<tspan font-size="7.5" baseline-shift="-2.5">L</tspan> = 3</text>
<polygon points="459.3,464.3 547.2,464.3 547.2,395.3" fill="url(#ginc)"/>
<line x1="547.2" y1="388.0" x2="547.2" y2="464.3" stroke="#9aa5aa" stroke-width="0.8"/>
<path d="M541,464.3 v-4.5 h6.2" fill="none" stroke="#888" stroke-width="0.6"/>
<line x1="459.3" y1="464.3" x2="547.2" y2="464.3" stroke="#b7cbd4" stroke-width="0.6"/>
<line x1="548.5" y1="384.7" x2="503.8" y2="416.3" stroke="#a09282" stroke-width="1.1"/>
<circle cx="553.0" cy="388.5" r="5.0" fill="#9c9c9c" stroke="none" stroke-width="1"/>
<circle cx="553.0" cy="388.5" r="2.2" fill="#555" stroke="none" stroke-width="1"/>
<g transform="translate(495.3,424) rotate(-38)"><rect x="-8.5" y="-7.5" width="17" height="15" rx="1.5" fill="#2b62a0"/></g>
<line x1="496.0" y1="433.5" x2="462.1" y2="447.1" stroke="#2b9fd5" stroke-width="1.1"/>
<polygon points="458.4,448.6 461.7,444.8 463.4,449.1" fill="#2b9fd5"/>
<line x1="496.0" y1="433.5" x2="496.0" y2="478.5" stroke="#2b9fd5" stroke-width="1.1"/>
<polygon points="496.0,482.5 493.7,478.0 498.3,478.0" fill="#2b9fd5"/>
<line x1="496.0" y1="433.5" x2="530.4" y2="455.9" stroke="#2b9fd5" stroke-width="1.1"/>
<polygon points="533.7,458.1 528.7,457.6 531.2,453.7" fill="#2b9fd5"/>
<line x1="458.4" y1="448.6" x2="496.0" y2="482.5" stroke="#7fbfdc" stroke-width="0.6"/>
<line x1="533.7" y1="458.1" x2="496.0" y2="482.5" stroke="#7fbfdc" stroke-width="0.6"/>
<path d="M468,464.3 A10,10 0 0 0 466.8,458" fill="none" stroke="#3c7fa8" stroke-width="0.6"/>
<path d="M490,440 A8,8 0 0 0 502.5,440" fill="none" stroke="#3c7fa8" stroke-width="0.6"/>
<text x="454.5" y="447.5" font-size="7" text-anchor="middle" fill="#333">3</text>
<text x="507.0" y="447.0" font-size="6.5" text-anchor="middle" fill="#333">37°</text>
<text x="484.5" y="461.0" font-size="6.5" text-anchor="middle" fill="#333">37°</text>
<text x="536.5" y="454.5" font-size="7" text-anchor="middle" fill="#333">4</text>
<text x="486.4" y="416.5" font-size="7" text-anchor="middle" fill="#333">K</text>
<text x="521.5" y="401.5" font-size="6.5" text-anchor="middle" fill="#333">3</text>
<circle cx="525.5" cy="403.0" r="0.9" fill="#1a1a1a" stroke="none" stroke-width="1"/>
<text x="500" y="491.5" font-size="6.5" fill="#333" text-anchor="middle">G<tspan font-size="4.5" dy="1.5">K</tspan><tspan dy="-1.5">=5</tspan></text>
<line x1="558.2" y1="365.8" x2="587.5" y2="365.8" stroke="#4d9ec6" stroke-width="2.6"/>
<line x1="572.6" y1="365.8" x2="572.6" y2="387.6" stroke="#9a8c7e" stroke-width="1"/>
<line x1="557.9" y1="388.5" x2="557.9" y2="411.7" stroke="#9a8c7e" stroke-width="1"/>
<line x1="555.6" y1="411.7" x2="555.6" y2="437.8" stroke="#9a8c7e" stroke-width="1"/>
<line x1="560.2" y1="411.7" x2="560.2" y2="437.8" stroke="#9a8c7e" stroke-width="1"/>
<line x1="566.8" y1="387.6" x2="566.8" y2="437.8" stroke="#9a8c7e" stroke-width="1"/>
<line x1="578.4" y1="387.6" x2="578.4" y2="424.3" stroke="#9a8c7e" stroke-width="1"/>
<line x1="560.8" y1="437.8" x2="560.8" y2="464.0" stroke="#9a8c7e" stroke-width="1"/>
<circle cx="572.4" cy="387.6" r="6.8" fill="#eea23f" stroke="#c98436" stroke-width="0.8"/>
<circle cx="572.4" cy="387.6" r="3.0" fill="#e99a3a" stroke="#a56a30" stroke-width="0.6"/>
<circle cx="557.9" cy="411.7" r="3.2" fill="#eea23f" stroke="#c98436" stroke-width="0.6"/>
<circle cx="560.8" cy="437.8" r="6.2" fill="#eea23f" stroke="#c98436" stroke-width="0.8"/>
<circle cx="560.8" cy="437.8" r="2.6" fill="#e99a3a" stroke="#a56a30" stroke-width="0.6"/>
<rect x="571.4" y="424.3" width="15.5" height="15.5" rx="1.5" fill="#2b62a0"/>
<line x1="548.2" y1="463.9" x2="576.8" y2="463.9" stroke="#555" stroke-width="3.2"/>
<text x="554.8" y="403.3" font-size="7.5" text-anchor="middle" fill="#333">3</text>
<text x="563.6" y="416.0" font-size="7.5" text-anchor="middle" fill="#333">L</text>
<text x="557.7" y="426.2" font-size="7.5" text-anchor="middle" fill="#333">L</text>
<text x="550.8" y="433.6" font-size="7.5" text-anchor="middle" fill="#333">L</text>
<text x="575.3" y="408.5" font-size="7.5" text-anchor="middle" fill="#333">L</text>
<text x="578.8" y="435.2" font-size="7.5" text-anchor="middle" fill="#333">L</text>
<line x1="630.2" y1="414.7" x2="630.2" y2="392.9" stroke="#2b9fd5" stroke-width="1.2"/>
<polygon points="630.2,388.4 632.8,393.4 627.6,393.4" fill="#2b9fd5"/>
<line x1="630.2" y1="418.2" x2="630.2" y2="439.5" stroke="#2b9fd5" stroke-width="1.2"/>
<polygon points="630.2,444.0 627.6,439.0 632.8,439.0" fill="#2b9fd5"/>
<line x1="618.7" y1="417.7" x2="618.7" y2="439.5" stroke="#2b9fd5" stroke-width="1.2"/>
<polygon points="618.7,444.0 616.1,439.0 621.3,439.0" fill="#2b9fd5"/>
<text x="634.5" y="394.0" font-size="6.5" fill="#333">3</text>
<text x="607.5" y="431" font-size="6.5" fill="#333">G<tspan font-size="4.5" dy="1.5">L</tspan></text>
<text x="634.5" y="431" font-size="6.5" fill="#333">G<tspan font-size="4.5" dy="1.5">L</tspan></text>
<text x="654.2" y="412.3" font-size="11" fill="#2b2b2b">G<tspan font-size="7.5" baseline-shift="-2.5">L</tspan></text>
<text x="669.2" y="412.8" font-size="11" fill="#2b2b2b">=</text>
<line x1="678.5" y1="409.9" x2="689.5" y2="409.9" stroke="#2b2b2b" stroke-width="0.8"/>
<text x="683.7" y="405.2" font-size="11" text-anchor="middle" fill="#2b2b2b">3</text>
<text x="683.7" y="422.5" font-size="11" text-anchor="middle" fill="#2b2b2b">2</text>
<line x1="648.6" y1="442.9" x2="665.9" y2="442.9" stroke="#2b2b2b" stroke-width="0.8"/>
<text x="657.0" y="439.0" font-size="11" text-anchor="middle" fill="#2b2b2b">G<tspan font-size="7.5" baseline-shift="-2.5">K</tspan></text>
<text x="657.0" y="455.4" font-size="11" text-anchor="middle" fill="#2b2b2b">G<tspan font-size="7.5" baseline-shift="-2.5">L</tspan></text>
<text x="669.2" y="445.8" font-size="11" fill="#2b2b2b">=</text>
<line x1="679.3" y1="441.3" x2="687.7" y2="441.3" stroke="#b0b0b0" stroke-width="0.6"/>
<text x="683.5" y="436.6" font-size="11" text-anchor="middle" fill="#2b2b2b">5</text>
<line x1="679.3" y1="456.2" x2="687.7" y2="456.2" stroke="#2b2b2b" stroke-width="0.8"/>
<text x="683.5" y="450.7" font-size="11" text-anchor="middle" fill="#2b2b2b">3</text>
<text x="683.5" y="468.0" font-size="11" text-anchor="middle" fill="#2b2b2b">2</text>
<text x="691.5" y="445.8" font-size="11" fill="#2b2b2b">=</text>
<line x1="700.4" y1="442.1" x2="717.7" y2="442.1" stroke="#2b2b2b" stroke-width="0.8"/>
<text x="709.1" y="437.4" font-size="11" text-anchor="middle" fill="#2b2b2b">10</text>
<text x="709.1" y="455.4" font-size="11" text-anchor="middle" fill="#2b2b2b">3</text>
<text x="721.5" y="446.0" font-size="11" fill="#2b2b2b">bulunur.</text>
<rect x="425.1" y="520.0" width="20" height="14.4" fill="#80cfee"/>
<text x="428.4" y="532.1" font-size="11" font-weight="bold" fill="#14304a">4.</text>
<text x="453.2" y="532.6" font-size="11" font-weight="bold" fill="#2b2b2b">a)</text>
<text x="473.1" y="532.3" font-size="11" fill="#2b2b2b">F.2πb = R.a ⇒  20.2.3.4 = R·</text>
<line x1="616.0" y1="529.0" x2="628.7" y2="529.0" stroke="#2b2b2b" stroke-width="0.8"/>
<text x="622.4" y="524.4" font-size="11" text-anchor="middle" fill="#2b2b2b">1</text>
<text x="622.4" y="541.3" font-size="11" text-anchor="middle" fill="#2b2b2b">10</text>
<text x="473.1" y="549.3" font-size="11" fill="#2b2b2b">4800N = R</text>
<text x="453.2" y="583.9" font-size="11" font-weight="bold" fill="#2b2b2b">b)</text>
<text x="473.1" y="583.9" font-size="11" fill="#2b2b2b">h = N.a</text>
<text x="473.1" y="600.4" font-size="11" fill="#2b2b2b">h = 20.0,1</text>
<text x="473.1" y="617.2" font-size="11" fill="#2b2b2b">h = 2 cm</text>
<rect x="425.1" y="639.7" width="20" height="14.4" fill="#80cfee"/>
<text x="428.4" y="651.8" font-size="11" font-weight="bold" fill="#14304a">5.</text>
<text x="453.9" y="651.2" font-size="11" fill="#2b2b2b">n<tspan font-size="8" baseline-shift="-3">Z</tspan> =</text>
<line x1="476.5" y1="649.3" x2="532.9" y2="649.3" stroke="#2b2b2b" stroke-width="0.8"/>
<text x="504.7" y="644.9" font-size="11" text-anchor="middle" fill="#2b2b2b">12πr – 4πr</text>
<text x="504.7" y="661.8" font-size="11" text-anchor="middle" fill="#2b2b2b">4πr</text>
<text x="535.5" y="651.2" font-size="11" fill="#2b2b2b">= 2 tur.</text>
<text x="453.9" y="676.0" font-size="11" fill="#2b2b2b">II. yönünde döner.</text>
<circle cx="629.5" cy="675.4" r="40.1" fill="#f6a526" stroke="#c07a1c" stroke-width="1.0" stroke-dasharray="0.9,0.9"/>
<circle cx="732.2" cy="675.4" r="26.4" fill="#f6a526" stroke="#c07a1c" stroke-width="1.0" stroke-dasharray="0.9,0.9"/>
<circle cx="687.5" cy="754.4" r="19.3" fill="#f6a526" stroke="#c07a1c" stroke-width="1.0" stroke-dasharray="0.9,0.9"/>
<line x1="669.6" y1="675.4" x2="668.2" y2="754.4" stroke="#9a8c7e" stroke-width="1.1"/>
<line x1="705.8" y1="675.4" x2="706.8" y2="754.4" stroke="#9a8c7e" stroke-width="1.1"/>
<polygon points="669.2,720.8 665.2,711.5 669.2,713.5 673.2,711.5" fill="#2b9fd5"/>
<polygon points="706.4,716.3 702.4,707 706.4,709 710.4,707" fill="#2b9fd5"/>
<line x1="629.5" y1="675.4" x2="669.6" y2="675.4" stroke="#c0392b" stroke-width="0.6" stroke-dasharray="1.2,1"/>
<circle cx="629.5" cy="675.4" r="1.2" fill="#1a1a1a" stroke="none" stroke-width="1"/>
<line x1="732.2" y1="675.4" x2="758.6" y2="675.4" stroke="#c0392b" stroke-width="0.6" stroke-dasharray="1.2,1"/>
<circle cx="732.2" cy="675.4" r="1.2" fill="#1a1a1a" stroke="none" stroke-width="1"/>
<line x1="687.5" y1="754.4" x2="706.8" y2="754.4" stroke="#c0392b" stroke-width="0.6" stroke-dasharray="1.2,1"/>
<circle cx="687.5" cy="754.4" r="1.2" fill="#1a1a1a" stroke="none" stroke-width="1"/>
<path d="M654,633.5 Q668,640 670.5,654" fill="none" stroke="#2b9fd5" stroke-width="0.9"/>
<polygon points="670.8,660 668,652.5 673.2,652.5" fill="#2b9fd5"/>
<path d="M725,642 Q706,644 701.5,657" fill="none" stroke="#2b9fd5" stroke-width="0.9"/>
<polygon points="700.8,663 698.5,655.5 703.8,656" fill="#2b9fd5"/>
<path d="M669,778 Q687.5,790 706,778" fill="none" stroke="#2b9fd5" stroke-width="0.9"/>
<polygon points="666.5,775.5 673.5,777 670,781" fill="#2b9fd5"/>
<polygon points="708.5,775.5 701.5,777 705,781" fill="#2b9fd5"/>
<circle cx="687.5" cy="784.0" r="0.8" fill="#1a1a1a" stroke="none" stroke-width="1"/>
<text x="598.5" y="643.5" font-size="8.5" text-anchor="middle" fill="#333">X</text>
<text x="757.5" y="659.0" font-size="8.5" text-anchor="middle" fill="#333">Y</text>
<text x="687.6" y="732.5" font-size="8.5" text-anchor="middle" fill="#333">Z</text>
<text x="649.3" y="673.0" font-size="8.5" text-anchor="middle" fill="#333">3r</text>
<text x="744.2" y="673.0" font-size="8.5" text-anchor="middle" fill="#333">2r</text>
<text x="696.5" y="751.5" font-size="8.5" text-anchor="middle" fill="#333">r</text>
<text x="623.5" y="684.5" font-size="8.5" fill="#333">O<tspan font-size="5.5" baseline-shift="-2">1</tspan></text>
<text x="723.5" y="684.5" font-size="8.5" fill="#333">O<tspan font-size="5.5" baseline-shift="-2">2</tspan></text>
<text x="629" y="725.4" font-size="8.5" fill="#333">h<tspan font-size="5.5" baseline-shift="-2">x</tspan>=2.2π3r</text>
<text x="637.8" y="738.5" font-size="8.5" fill="#333">=12πr</text>
<text x="713" y="714.4" font-size="8.5" fill="#333">h<tspan font-size="5.5" baseline-shift="-2">y</tspan>=1.2π2r</text>
<text x="721.5" y="727.9" font-size="8.5" fill="#333">=4πr</text>
<text x="661.0" y="779.5" font-size="8.5" text-anchor="middle" fill="#333">I</text>
<text x="713.6" y="779.5" font-size="8.5" text-anchor="middle" fill="#333">II</text>
<rect x="425.1" y="819.0" width="20" height="14.4" fill="#80cfee"/>
<text x="428.4" y="831.1" font-size="11" font-weight="bold" fill="#14304a">6.</text>
<text x="454.0" y="831.3" font-size="11" fill="#2b2b2b">Kasnağın hareketinde çekilen ip = 1.2π2r – 1.2πr = 2πr</text>
<text x="454.0" y="858.0" font-size="11" fill="#2b2b2b">X cisminin yükselmesi</text>
<text x="568.8" y="858.8" font-size="11" fill="#2b2b2b">=</text>
<line x1="577.4" y1="855.3" x2="597.7" y2="855.3" stroke="#2b2b2b" stroke-width="0.8"/>
<text x="587.5" y="850.9" font-size="11" text-anchor="middle" fill="#2b2b2b">2πr</text>
<text x="587.5" y="867.9" font-size="11" text-anchor="middle" fill="#2b2b2b">2</text>
<text x="568.5" y="879.6" font-size="11" fill="#2b2b2b">= πr bulunur.</text>
<rect x="425.1" y="919.8" width="20" height="14.4" fill="#80cfee"/>
<text x="428.4" y="931.9" font-size="11" font-weight="bold" fill="#14304a">7.</text>
<text y="931.8" font-size="11" fill="#2b2b2b"><tspan x="453.3" font-weight="bold">a)</tspan><tspan> iş,</tspan><tspan x="483.7" font-weight="bold">b)</tspan><tspan> kuvvetten,</tspan><tspan x="555.9" font-weight="bold">c)</tspan><tspan> makaradan,</tspan><tspan x="634.8" font-weight="bold">d)</tspan><tspan> verimi,</tspan><tspan x="687.0" font-weight="bold">e)</tspan><tspan> kuvvetten</tspan></text>
<rect x="425.1" y="953.7" width="20" height="14.4" fill="#80cfee"/>
<text x="428.4" y="965.8" font-size="11" font-weight="bold" fill="#14304a">8.</text>
<text y="966.3" font-size="11" fill="#2b2b2b"><tspan x="453.3" font-weight="bold">a)</tspan><tspan> D,</tspan><tspan x="486.7" font-weight="bold">b)</tspan><tspan> D,</tspan><tspan x="521.5" font-weight="bold">c)</tspan><tspan> Y,</tspan><tspan x="553.3" font-weight="bold">d)</tspan><tspan> D,</tspan><tspan x="587.4" font-weight="bold">e)</tspan><tspan> D</tspan></text>
</svg></body></html>
